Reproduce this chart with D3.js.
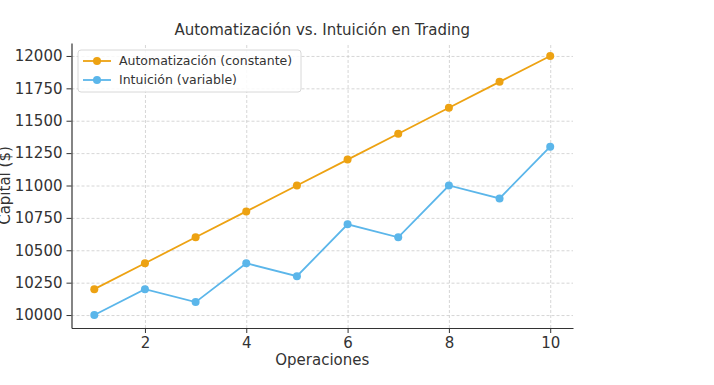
<!DOCTYPE html>
<html>
<head>
<meta charset="utf-8">
<script src="https://cdn.jsdelivr.net/npm/d3@7"></script>
<style>
  body { margin: 0; background: #fff; }
  text { font-family: "DejaVu Sans", sans-serif; fill: #333; }
  .grid line { stroke: #ccc; stroke-dasharray: 3,2; stroke-width: 0.8; }
  .grid path { display: none; }
</style>
</head>
<body>
<svg class="chart" width="714" height="385"></svg>
<script>
var operaciones = [1, 2, 3, 4, 5, 6, 7, 8, 9, 10];
var automatizacion = [10200, 10400, 10600, 10800, 11000, 11200, 11400, 11600, 11800, 12000];
var intuicion = [10000, 10200, 10100, 10400, 10300, 10700, 10600, 11000, 10900, 11300];
var xTicks = [2, 4, 6, 8, 10];
var yTicks = [10000, 10250, 10500, 10750, 11000, 11250, 11500, 11750, 12000];

var series = [
  { name: "Automatización (constante)", values: automatizacion, color: "#EDA212" },
  { name: "Intuición (variable)", values: intuicion, color: "#5BB6EA" }
];

var svg = d3.select(".chart"),
    plotLeft = 71.5, plotRight = 573, plotTop = 43, plotBottom = 328;

var x = d3.scaleLinear().domain([0.55, 10.45]).range([plotLeft, plotRight]);
var y = d3.scaleLinear().domain([9900, 12100]).range([plotBottom, plotTop]);

// grid
svg.append("g").attr("class", "grid")
    .attr("transform", "translate(0," + plotBottom + ")")
    .call(d3.axisBottom(x).tickValues(xTicks).tickSize(-(plotBottom - plotTop)).tickFormat(""));
svg.append("g").attr("class", "grid")
    .attr("transform", "translate(" + plotLeft + ",0)")
    .call(d3.axisLeft(y).tickValues(yTicks).tickSize(-(plotRight - plotLeft)).tickFormat(""));

// axes
var xAxis = svg.append("g")
    .attr("transform", "translate(0," + plotBottom + ")")
    .call(d3.axisBottom(x).tickValues(xTicks).tickSize(5).tickPadding(4).tickSizeOuter(0));
var yAxis = svg.append("g")
    .attr("transform", "translate(" + plotLeft + ",0)")
    .call(d3.axisLeft(y).tickValues(yTicks).tickSize(5).tickPadding(4).tickSizeOuter(0).tickFormat(d3.format("d")));

[xAxis, yAxis].forEach(function(a) {
  a.select(".domain").attr("stroke", "#333").attr("stroke-width", 1.2);
  a.selectAll(".tick line").attr("stroke", "#333");
  a.selectAll(".tick text").style("font-size", "15px").attr("fill", "#333");
});

// lines
var line = d3.line()
    .x(function(d, i) { return x(operaciones[i]); })
    .y(function(d) { return y(d); });

series.forEach(function(s) {
  svg.append("path")
      .datum(s.values)
      .attr("fill", "none")
      .attr("stroke", s.color)
      .attr("stroke-width", 1.8)
      .attr("d", line);
  svg.selectAll(null)
      .data(s.values)
      .enter().append("circle")
      .attr("cx", function(d, i) { return x(operaciones[i]); })
      .attr("cy", function(d) { return y(d); })
      .attr("r", 4)
      .attr("fill", s.color);
});

// title and labels
svg.append("text")
    .attr("x", (plotLeft + plotRight) / 2)
    .attr("y", 35)
    .attr("text-anchor", "middle")
    .style("font-size", "15px")
    .text("Automatización vs. Intuición en Trading");

svg.append("text")
    .attr("x", (plotLeft + plotRight) / 2)
    .attr("y", 365)
    .attr("text-anchor", "middle")
    .style("font-size", "15px")
    .text("Operaciones");

svg.append("text")
    .attr("transform", "translate(10," + ((plotTop + plotBottom) / 2) + ") rotate(-90)")
    .attr("text-anchor", "middle")
    .style("font-size", "15px")
    .text("Capital ($)");

// legend
var legend = svg.append("g").attr("transform", "translate(78,50)");
legend.append("rect")
    .attr("width", 223).attr("height", 42).attr("rx", 3)
    .attr("fill", "#fff").attr("fill-opacity", 0.85)
    .attr("stroke", "#d8d8d8");

var item = legend.selectAll(".item")
    .data(series)
    .enter().append("g")
    .attr("transform", function(d, i) { return "translate(0," + (11 + i * 19) + ")"; });
item.append("line")
    .attr("x1", 5).attr("x2", 33)
    .attr("stroke", function(d) { return d.color; })
    .attr("stroke-width", 1.8);
item.append("circle")
    .attr("cx", 19).attr("r", 4)
    .attr("fill", function(d) { return d.color; });
item.append("text")
    .attr("x", 41).attr("dy", "0.35em")
    .style("font-size", "12.5px")
    .text(function(d) { return d.name; });
</script>
</body>
</html>
